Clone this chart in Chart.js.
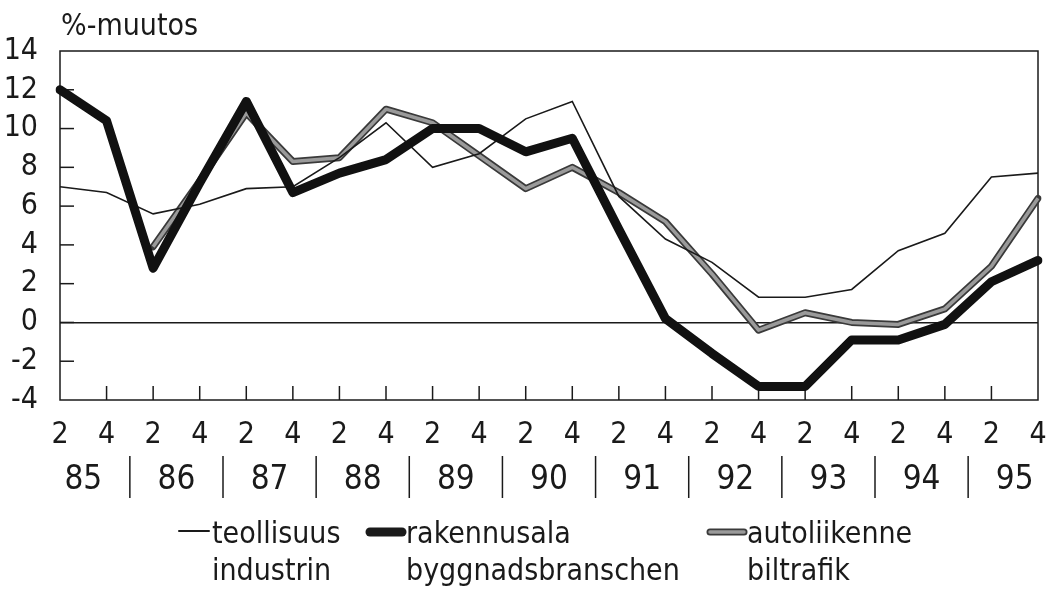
<!DOCTYPE html>
<html>
<head>
<meta charset="utf-8">
<script src="https://cdn.jsdelivr.net/npm/chart.js@4"></script>
<style>
  html, body { margin: 0; padding: 0; background: #fff; }
</style>
</head>
<body>
<canvas id="chart" width="1047" height="589"></canvas>
<script>
var ctx = document.getElementById("chart");

// half-year points 85/2 ... 95/4
const quarters = ["2","4","2","4","2","4","2","4","2","4","2","4","2","4","2","4","2","4","2","4","2","4"]
const years = ["85","86","87","88","89","90","91","92","93","94","95"]

const teollisuus = [7.0, 6.7, 5.6, 6.1, 6.9, 7.0, 8.5, 10.3, 8.0, 8.7, 10.5, 11.4, 6.5, 4.3, 3.1, 1.3, 1.3, 1.7, 3.7, 4.6, 7.5, 7.7]
const rakennusala = [12.0, 10.4, 2.8, 7.2, 11.4, 6.7, 7.7, 8.4, 10.0, 10.0, 8.8, 9.5, 4.8, 0.2, -1.6, -3.3, -3.3, -0.9, -0.9, -0.1, 2.1, 3.2]
const autoliikenne = [null, null, 3.9, 7.3, 10.8, 8.3, 8.5, 11.0, 10.3, 8.6, 6.9, 8.0, 6.7, 5.2, 2.5, -0.4, 0.5, 0.0, -0.1, 0.7, 2.9, 6.4]

const cond = "'DejaVu Sans Condensed', 'DejaVu Sans', sans-serif"
const ink = "#1a1a1a"

// ticks inside the plot, frame, year row, legend and title
const extras = {
  id: 'extras',
  beforeDatasetsDraw(chart) {
    const c = chart.ctx, a = chart.chartArea
    const xs = chart.scales.x, ys = chart.scales.y
    c.save()
    c.strokeStyle = ink
    c.lineWidth = 1.5
    for (let i = 1; i < quarters.length - 1; i++) {
      const x = xs.getPixelForValue(i)
      c.beginPath(); c.moveTo(x, a.bottom); c.lineTo(x, a.bottom - 14); c.stroke()
    }
    for (let v = -2; v <= 12; v += 2) {
      const y = ys.getPixelForValue(v)
      c.beginPath(); c.moveTo(a.left, y); c.lineTo(a.left + 14, y); c.stroke()
    }
    c.strokeRect(a.left, a.top, a.right - a.left, a.bottom - a.top)
    c.restore()
  },
  afterDraw(chart) {
    const c = chart.ctx
    const xs = chart.scales.x
    c.save()
    c.fillStyle = ink
    c.strokeStyle = ink
    // year labels and separators
    c.font = "33px " + cond
    c.textAlign = "center"
    c.textBaseline = "alphabetic"
    for (let k = 0; k < years.length; k++) {
      const x = (xs.getPixelForValue(2 * k) + xs.getPixelForValue(2 * k + 1)) / 2
      c.fillText(years[k], x, 489)
      if (k < years.length - 1) {
        const s = (xs.getPixelForValue(2 * k + 1) + xs.getPixelForValue(2 * k + 2)) / 2
        c.lineWidth = 1.5
        c.beginPath(); c.moveTo(s, 456); c.lineTo(s, 498); c.stroke()
      }
    }
    // title
    c.textAlign = "left"
    c.font = "30px " + cond
    c.fillText("%-muutos", 61, 35)
    // legend
    c.lineCap = "round"
    c.lineWidth = 2
    c.beginPath(); c.moveTo(179, 531); c.lineTo(209, 531); c.stroke()
    c.lineWidth = 9
    c.beginPath(); c.moveTo(370, 532); c.lineTo(402, 532); c.stroke()
    c.strokeStyle = "#3a3a3a"
    c.lineWidth = 7
    c.beginPath(); c.moveTo(710, 532); c.lineTo(744, 532); c.stroke()
    c.strokeStyle = "#9a9a9a"
    c.lineWidth = 3.5
    c.beginPath(); c.moveTo(710, 532); c.lineTo(744, 532); c.stroke()
    c.fillText("teollisuus", 212, 543)
    c.fillText("industrin", 212, 580)
    c.fillText("rakennusala", 406, 543)
    c.fillText("byggnadsbranschen", 406, 580)
    c.fillText("autoliikenne", 747, 543)
    c.fillText("biltrafik", 747, 580)
    c.restore()
  }
}

var myChart = new Chart(ctx, {
  type: 'line',
  data: {
    labels: quarters,
    datasets: [
      {label: 'rakennusala', data: rakennusala, borderColor: '#111', borderWidth: 9, borderJoinStyle: 'round', borderCapStyle: 'round'},
      {label: 'teollisuus', data: teollisuus, borderColor: ink, borderWidth: 1.6},
      {label: 'autoliikenne', data: autoliikenne, borderColor: '#9a9a9a', borderWidth: 3.5, borderJoinStyle: 'round'},
      {label: 'autoliikenne_edge', data: autoliikenne, borderColor: '#3a3a3a', borderWidth: 7, borderJoinStyle: 'round', borderCapStyle: 'round'}
    ]
  },
  options: {
    responsive: false,
    animation: false,
    devicePixelRatio: 1,
    layout: { padding: { top: 51, right: 9, left: 0, bottom: 0 } },
    elements: { point: { radius: 0 }, line: { tension: 0 } },
    plugins: { legend: { display: false }, tooltip: { enabled: false } },
    scales: {
      x: {
        type: 'category',
        offset: false,
        grid: { display: false, drawTicks: false },
        border: { display: false },
        ticks: { color: ink, font: { family: cond, size: 30 }, padding: 17, maxRotation: 0, autoSkip: false },
        afterFit: function (scale) {
          scale.height = 189
          scale.paddingLeft = 0
          scale.paddingRight = 0
        }
      },
      y: {
        min: -4,
        max: 14,
        grid: {
          drawTicks: false,
          lineWidth: 1.5,
          color: function (c) { return c.tick && c.tick.value === 0 ? ink : 'rgba(0,0,0,0)' }
        },
        border: { display: false },
        ticks: { stepSize: 2, autoSkip: false, color: ink, font: { family: cond, size: 30 }, padding: 22 },
        afterFit: function (scale) {
          scale.width = 60
          scale.paddingTop = 0
          scale.paddingBottom = 0
        }
      }
    }
  },
  plugins: [extras]
});
</script>
</body>
</html>
